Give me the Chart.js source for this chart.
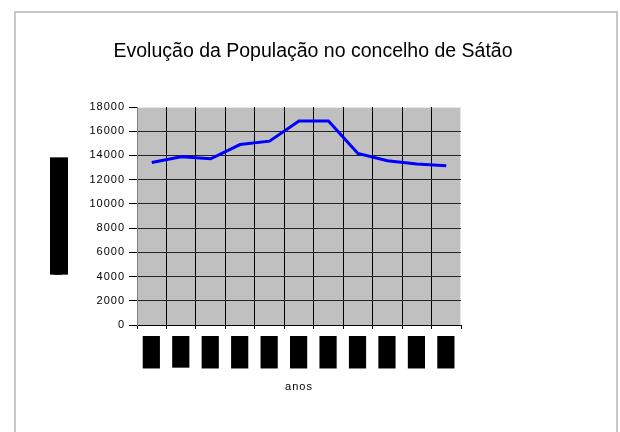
<!DOCTYPE html>
<html><head><meta charset="utf-8">
<script src="https://cdn.jsdelivr.net/npm/chart.js@4/dist/chart.umd.min.js"></script>
<style>html,body{margin:0;padding:0;background:#fff;}</style>
</head><body>
<canvas id="c" width="620" height="432"></canvas>
<script>
const years = ['1900','1911','1920','1930','1940','1950','1960','1970','1981','1991','2001'];
const population = [13420, 13890, 13720, 14900, 15180, 16850, 16850, 14170, 13560, 13290, 13150];
const yTicks = [0, 2000, 4000, 6000, 8000, 10000, 12000, 14000, 16000, 18000];
const chartTitle = 'Evolução da População no concelho de Sátão';
const xTitle = 'anos';
const yTitle = 'População residente';

const FONT = '"Liberation Sans", Arial, sans-serif';
Chart.defaults.font.family = FONT;
Chart.defaults.color = '#000';

const spacing = {
  id: 'spacing',
  beforeLayout(c) { c.ctx.letterSpacing = '1px'; },
  beforeDraw(c) { c.ctx.letterSpacing = '1px'; }
};

const decor = {
  id: 'decor',
  beforeDraw(c) {
    const ctx = c.ctx, a = c.chartArea;
    ctx.save();
    ctx.fillStyle = '#fff';
    ctx.fillRect(0, 0, c.width, c.height);
    ctx.strokeStyle = '#c8c8c8';
    ctx.lineWidth = 2;
    ctx.strokeRect(15, 12, 602, 500);
    ctx.fillStyle = '#c0c0c0';
    ctx.fillRect(a.left, a.top, a.right - a.left, a.bottom - a.top);
    ctx.strokeStyle = '#e6e6e6';
    ctx.lineWidth = 1;
    ctx.beginPath();
    ctx.moveTo(a.left, a.top + 0.5); ctx.lineTo(a.right - 0.5, a.top + 0.5); ctx.lineTo(a.right - 0.5, a.bottom);
    ctx.stroke();
    // backdrop behind the y-axis title
    const ys = c.scales.y;
    const t = ys.options.title;
    ctx.font = '11px ' + FONT;
    const w = ctx.measureText(t.text).width;
    const lh = 11 * 1.2;
    const cx = ys.left + t.padding.top + lh / 2;
    const cy = (a.top + a.bottom) / 2;
    ctx.fillStyle = '#000';
    ctx.fillRect(cx - 9, cy - w / 2 + 1, 18, w - 2);
    ctx.restore();
  }
};

const chart = new Chart(document.getElementById('c'), {
  type: 'line',
  data: {
    labels: years,
    datasets: [{
      data: population,
      borderColor: '#0000ff',
      borderWidth: 3,
      pointRadius: 0,
      fill: false,
      tension: 0
    }]
  },
  options: {
    responsive: false,
    animation: false,
    devicePixelRatio: 1,
    layout: { padding: { top: 12, left: 14, right: 8, bottom: 0 } },
    plugins: {
      legend: { display: false },
      tooltip: { enabled: false },
      title: {
        display: true,
        text: chartTitle,
        color: '#000',
        font: { size: 19.5, weight: 'normal', family: FONT },
        padding: { top: 28, bottom: 43.6 }
      }
    },
    scales: {
      x: {
        type: 'category',
        offset: true,
        grid: {
          offset: true,
          color: c => (c.type === 'tick' && c.index > 0) ? '#000' : 'rgba(0,0,0,0)',
          tickColor: '#000',
          tickLength: 4,
          lineWidth: 1
        },
        border: { color: '#000', width: 1 },
        ticks: {
          minRotation: 90, maxRotation: 90, autoSkip: false,
          padding: 9,
          labelOffset: -7,
          color: '#000',
          font: { size: 11 },
          showLabelBackdrop: true,
          backdropColor: '#000',
          backdropPadding: 2
        },
        title: { display: true, text: xTitle, color: '#000', font: { size: 11 }, padding: { top: 0, bottom: 38.4 } },
        afterFit(s) { s.height = 107; }
      },
      y: {
        min: 0, max: 18000,
        afterBuildTicks(s) { s.ticks = yTicks.map(v => ({ value: v })); },
        ticks: { color: '#000', font: { size: 11 }, padding: 4, callback: v => String(v) },
        grid: {
          color: c => (c.tick && c.tick.value === 18000) ? 'rgba(0,0,0,0)' : '#222',
          tickColor: '#000',
          tickLength: 8,
          lineWidth: 1
        },
        border: { color: '#808080', width: 1 },
        title: { display: true, text: yTitle, color: '#000', font: { size: 11 }, padding: { top: 38.4, bottom: 0 } },
        afterFit(s) { s.width = 123; }
      },
      y2: {
        type: 'linear',
        position: 'right',
        display: true,
        grid: { display: false },
        border: { display: false },
        ticks: { display: false },
        afterFit(s) { s.width = 151; }
      }
    }
  },
  plugins: [spacing, decor]
});

// draw the chart title without the extra letter spacing used for axis text
if (chart.titleBlock) {
  const tb = chart.titleBlock;
  const origDraw = tb.draw;
  tb.draw = function (area) {
    const prev = this.ctx.letterSpacing;
    this.ctx.letterSpacing = '0px';
    origDraw.call(this, area);
    this.ctx.letterSpacing = prev;
  };
  chart.draw();
}
</script>
</body></html>
